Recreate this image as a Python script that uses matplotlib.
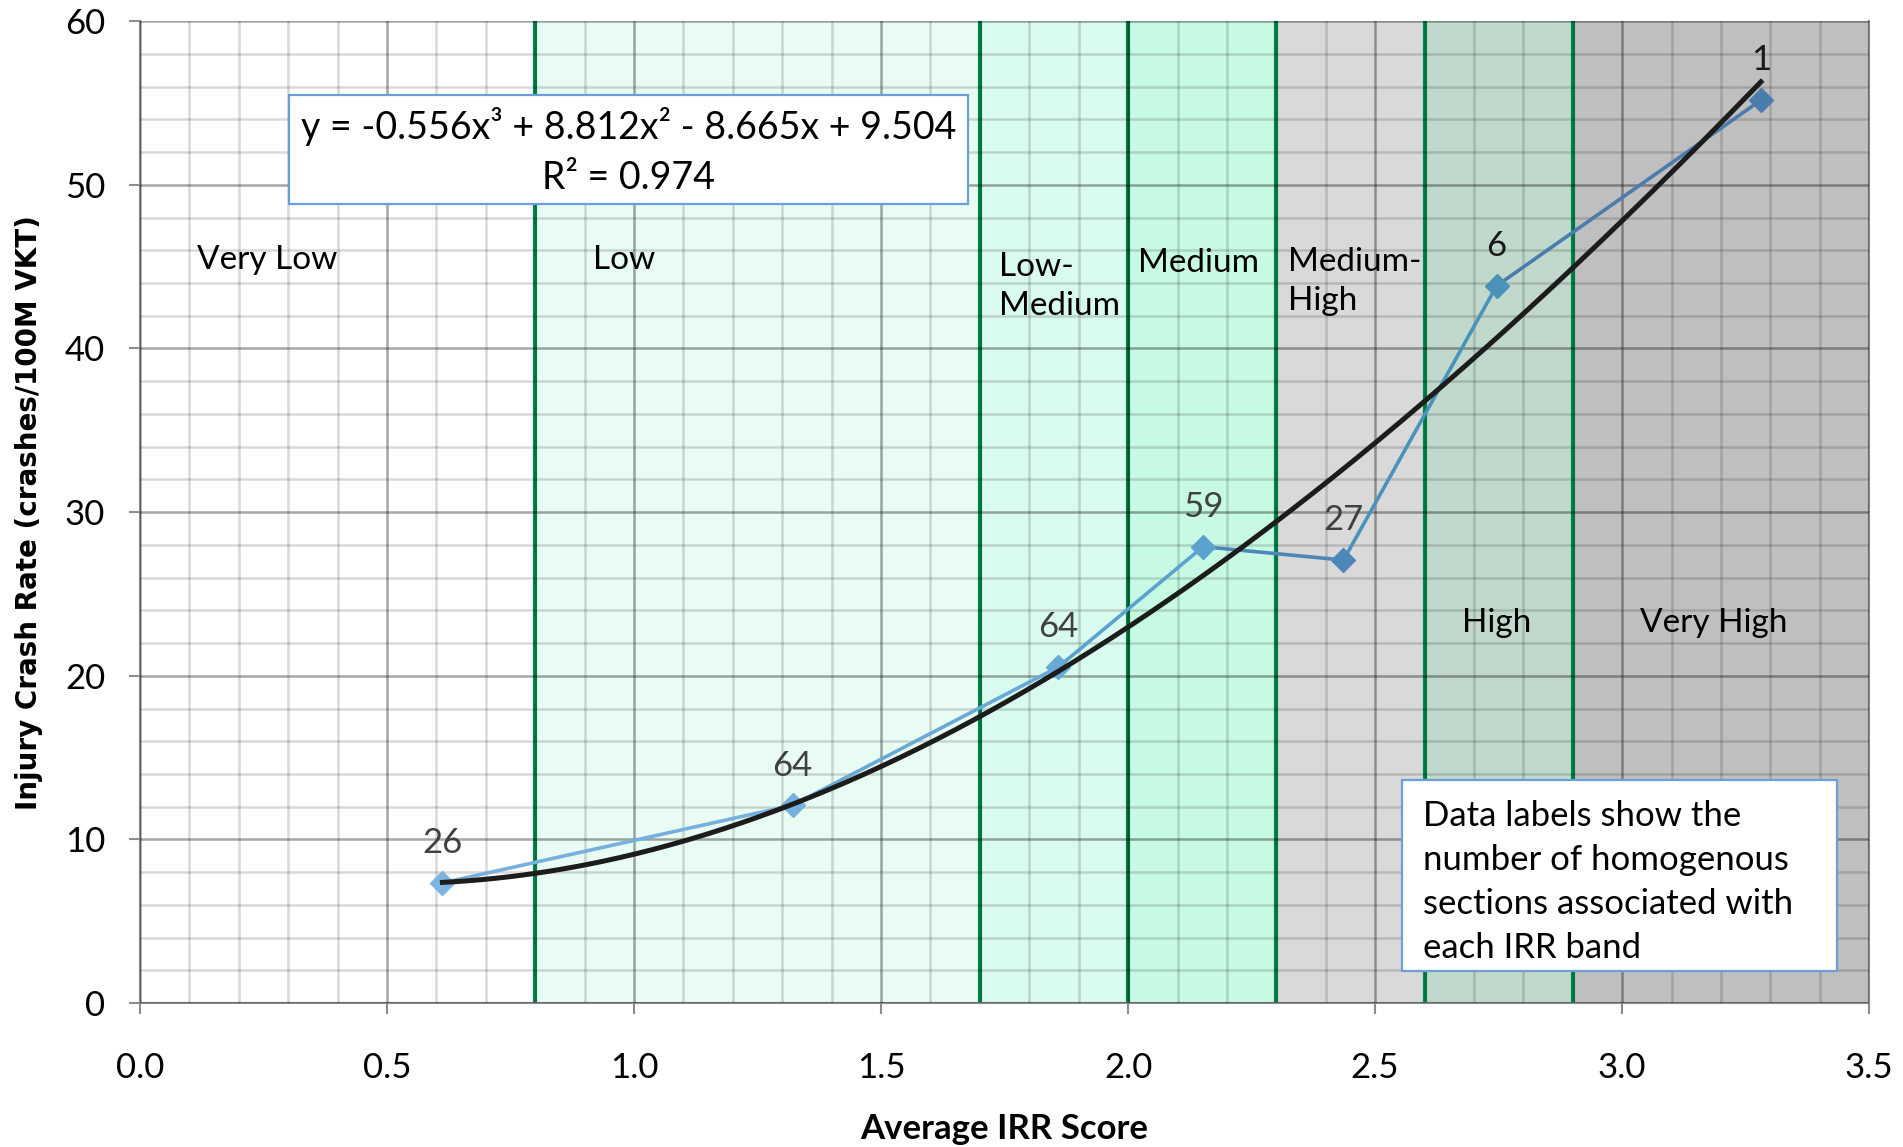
import matplotlib
matplotlib.use("Agg")
import matplotlib.pyplot as plt
import numpy as np
from matplotlib.patches import Rectangle
from matplotlib.ticker import MultipleLocator

# ---------------- data ----------------
irr_score = [0.612, 1.321, 1.859, 2.152, 2.436, 2.746, 3.281]
crash_rate = [7.34, 12.09, 20.54, 27.89, 27.07, 43.83, 55.18]
n_sections = ["26", "64", "64", "59", "27", "6", "1"]
point_colors = ["#7db4e0", "#76b0dc", "#68a9d6", "#5aa3cf", "#4f86b8", "#4a92ba", "#4a7cad"]

band_names = ["Very Low", "Low", "Low-\nMedium", "Medium", "Medium-\nHigh", "High", "Very High"]
band_edges = [0.0, 0.8, 1.7, 2.0, 2.3, 2.6, 2.9, 3.5]
band_colors = ["#ffffff", "#e9fcf3", "#d9faee", "#c6fae3", "#d9d9d9", "#c0d9cc", "#bfbfbf"]
band_label_x = [0.115, 0.916, 1.739, 2.021, 2.323, 2.675, 3.036]
band_label_y = [45.4, 45.4, 43.8, 45.2, 44.1, 23.2, 23.2]

trend_coefs = [-0.556, 8.812, -8.665, 9.504]   # cubic trendline from the chart
r_squared = 0.974

x_ticks = [0.0, 0.5, 1.0, 1.5, 2.0, 2.5, 3.0, 3.5]
y_ticks = [0, 10, 20, 30, 40, 50, 60]

# ---------------- fonts ----------------
plt.rcParams["font.family"] = ["Lato", "DejaVu Sans"]

fig = plt.figure(figsize=(19.03, 11.47), dpi=100)
ax = fig.add_axes([0.0736, 0.1255, 0.9086, 0.856])
ax.set_xlim(0, 3.5)
ax.set_ylim(0, 60)

# bands
for i, name in enumerate(band_names):
    ax.add_patch(Rectangle((band_edges[i], 0), band_edges[i + 1] - band_edges[i], 60,
                           facecolor=band_colors[i], edgecolor="none", zorder=0))
    ax.text(band_label_x[i], band_label_y[i], name, fontsize=24, ha="left", va="center",
            color="black", zorder=5, linespacing=1.4)

# grid
ax.xaxis.set_major_locator(MultipleLocator(0.5))
ax.xaxis.set_minor_locator(MultipleLocator(0.1))
ax.yaxis.set_major_locator(MultipleLocator(10))
ax.yaxis.set_minor_locator(MultipleLocator(2))
ax.grid(which="major", color="black", alpha=0.35, lw=1.8, zorder=1)
ax.grid(which="minor", color="black", alpha=0.15, lw=1.8, zorder=1)
ax.set_axisbelow(False)

# green band separators
for e in band_edges[1:-1]:
    ax.axvline(e, color="#00884b", lw=3.0, zorder=2)

# data series with per-segment colours
for i in range(len(irr_score) - 1):
    ax.plot(irr_score[i:i + 2], crash_rate[i:i + 2], color=point_colors[i + 1],
            lw=2.6, zorder=3, solid_capstyle="round")
for xv, yv, c, lab in zip(irr_score, crash_rate, point_colors, n_sections):
    ax.plot(xv, yv, marker="D", ms=12, color=c, mec=c, zorder=4, ls="none")
    ax.annotate(lab, (xv, yv), xytext=(0, 17), textcoords="offset points",
                ha="center", va="bottom", fontsize=25,
                color="#404040" if lab not in ("6", "1") else "#1a1a1a", zorder=6)

# trendline
xt = np.linspace(irr_score[0], irr_score[-1], 300)
ax.plot(xt, np.polyval(trend_coefs, xt), color="#1c1c1c", lw=3.6, zorder=4.5)

# equation box
ax.add_patch(Rectangle((0.302, 48.8), 1.675 - 0.302, 55.47 - 48.8, facecolor="white",
                       edgecolor="#6a9fd8", lw=1.6, zorder=7))
eq = ("y = {:.3f}x\u00b3 + {:.3f}x\u00b2 - {:.3f}x + {:.3f}".format(
    trend_coefs[0], trend_coefs[1], -trend_coefs[2], trend_coefs[3]))
ax.text((0.302 + 1.675) / 2, 53.55, eq, fontsize=27, ha="center", va="center", zorder=8)
ax.text((0.302 + 1.675) / 2, 50.4, "R\u00b2 = {:.3f}".format(r_squared), fontsize=27,
        ha="center", va="center", zorder=8)

# note box
ax.add_patch(Rectangle((2.554, 1.93), 3.434 - 2.554, 13.65 - 1.93, facecolor="white",
                       edgecolor="#6a9fd8", lw=1.6, zorder=7))
ax.text(2.596, 7.4, "Data labels show the\nnumber of homogenous\nsections associated with\neach IRR band",
        fontsize=25, ha="left", va="center", linespacing=1.45, zorder=8)

# axes styling
ax.set_xticks(x_ticks)
ax.set_xticklabels(["{:.1f}".format(v) for v in x_ticks])
ax.set_yticks(y_ticks)
ax.tick_params(which="major", length=8, width=1.5, color="#8c8c8c", labelsize=25,
               direction="out")
ax.tick_params(axis="x", which="major", pad=27)
ax.tick_params(axis="y", which="major", pad=17)
ax.tick_params(which="minor", length=0)
for s in ax.spines.values():
    s.set_color("#8c8c8c")
    s.set_linewidth(1.5)
ax.spines["top"].set_visible(False)

ax.set_xlabel("Average IRR Score", fontsize=25, fontweight="bold", labelpad=21)
ax.set_ylabel("Injury Crash Rate (crashes/100M VKT)", fontsize=20, fontweight="bold",
              family="DejaVu Sans", labelpad=16)

fig.savefig("out.png", dpi=100)
